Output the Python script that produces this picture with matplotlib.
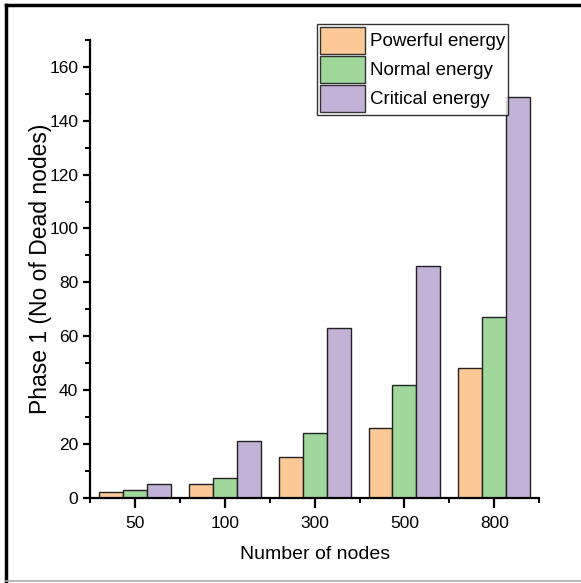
import numpy as np
import matplotlib
matplotlib.use("Agg")
import matplotlib.pyplot as plt
from matplotlib.lines import Line2D
from matplotlib.ticker import MultipleLocator, FixedLocator

plt.rcParams['font.family'] = ['Liberation Sans', 'DejaVu Sans']

categories = ["50", "100", "300", "500", "800"]
powerful = [2, 5, 15, 26, 48]
normal = [3, 7.5, 24, 42, 67]
critical = [5, 21, 63, 86, 149]
series_names = ["Powerful energy", "Normal energy", "Critical energy"]
colors = ["#fcc996", "#a0d89c", "#c3b2d7"]

fig = plt.figure(figsize=(5.81, 5.83), dpi=100)
ax = fig.add_axes([0.155, 0.1463, 0.773, 0.785])

x = np.arange(1, len(categories) + 1)
w = 0.8 / 3
for i, (vals, name) in enumerate(zip([powerful, normal, critical], series_names)):
    ax.bar(x + (i - 1) * w, vals, width=w, color=colors[i], edgecolor="#222222",
           linewidth=1.0, label=name, zorder=2)

ax.set_xlim(0.5, 5.5)
ax.set_ylim(0, 170)
ax.set_xticks(x)
ax.set_xticklabels(categories)
ax.xaxis.set_minor_locator(FixedLocator(np.arange(0.5, 5.6, 1.0)))
ax.yaxis.set_minor_locator(MultipleLocator(10))
ax.set_yticks(np.arange(0, 161, 20))

for s in ["top", "right"]:
    ax.spines[s].set_visible(False)
for s in ["left", "bottom"]:
    ax.spines[s].set_linewidth(1.6)

ax.tick_params(axis="both", which="major", direction="out", width=1.6, labelsize=12.5)
ax.tick_params(axis="x", which="major", length=7, pad=6)
ax.tick_params(axis="y", which="major", length=5)
ax.tick_params(axis="both", which="minor", direction="out", width=1.4, length=3.5)

ax.set_xlabel("Number of nodes", fontsize=14, labelpad=11)
ax.set_ylabel("Phase 1 (No of Dead nodes)", fontsize=16.5, labelpad=-2)

leg = ax.legend(loc="upper left", bbox_to_anchor=(0.505, 1.035), fontsize=13.5,
                frameon=True, fancybox=False, edgecolor="black",
                handlelength=2.4, handleheight=1.85, labelspacing=0.1,
                borderpad=0.15, handletextpad=0.3, borderaxespad=0.0)
leg.get_frame().set_linewidth(1.0)
for p in leg.get_patches():
    p.set_edgecolor("#333333")

# outer frame of the image
fig.add_artist(Line2D([0.010, 1.0], [0.991, 0.991], color="black", lw=2.5, transform=fig.transFigure))
fig.add_artist(Line2D([0.010, 0.010], [0.0, 0.991], color="black", lw=2.5, transform=fig.transFigure))
fig.add_artist(Line2D([0.010, 1.0], [0.003, 0.003], color="#aaaaaa", lw=1.2, transform=fig.transFigure))

fig.savefig("out.png", dpi=100)
